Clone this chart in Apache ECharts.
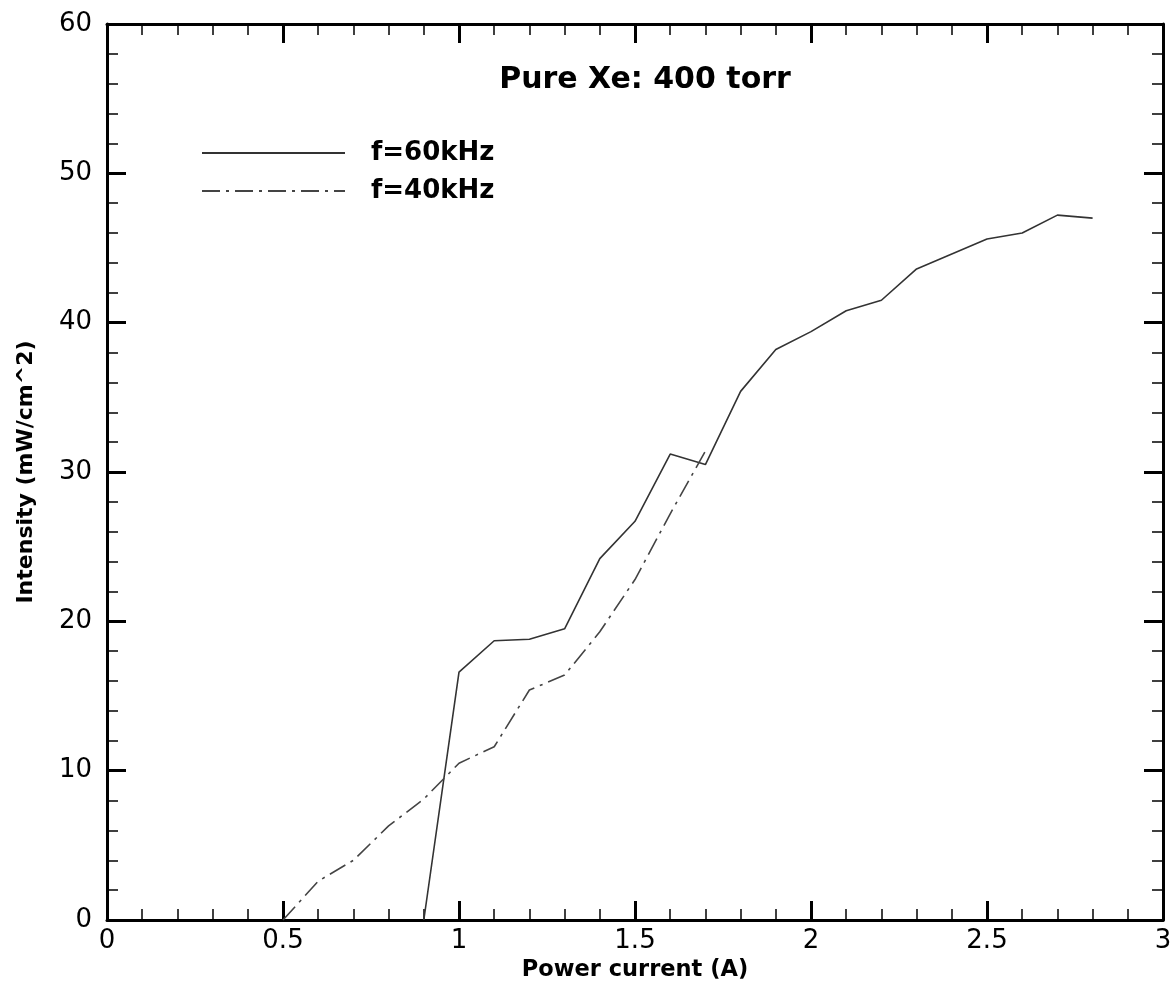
<!DOCTYPE html>
<html>
<head>
<meta charset="utf-8">
<script src="https://cdn.jsdelivr.net/npm/echarts@6/dist/echarts.min.js"></script>
<style>
html,body{margin:0;padding:0;background:#fff;}
#chart{width:1176px;height:991px;}
</style>
</head>
<body>
<div id="chart"></div>
<script>
// Data
const current60 = [0.9, 1.0, 1.1, 1.2, 1.3, 1.4, 1.5, 1.6, 1.7, 1.8, 1.9, 2.0, 2.1, 2.2, 2.3, 2.4, 2.5, 2.6, 2.7, 2.8];
const intensity60 = [0, 16.6, 18.7, 18.8, 19.5, 24.2, 26.7, 31.2, 30.5, 35.4, 38.2, 39.4, 40.8, 41.5, 43.6, 44.6, 45.6, 46.0, 47.2, 47.0];
const current40 = [0.5, 0.6, 0.7, 0.8, 0.9, 1.0, 1.1, 1.2, 1.3, 1.4, 1.5, 1.6, 1.7];
const intensity40 = [0, 2.6, 4.0, 6.3, 8.1, 10.5, 11.6, 15.4, 16.4, 19.3, 22.8, 27.2, 31.4];
const seriesNames = ['f=60kHz', 'f=40kHz'];
const titleText = 'Pure Xe: 400 torr';
const xTitle = 'Power current (A)';
const yTitle = 'Intensity (mW/cm^2)';

const pairs = (xs, ys) => xs.map((x, i) => [x, ys[i]]);
const FONT = '"DejaVu Sans", "Liberation Sans", Arial, sans-serif';

const axisCommon = {
  axisLine: {show: true, onZero: false, lineStyle: {color: '#000', width: 3}},
  axisTick: {show: true, inside: true, length: 19, lineStyle: {color: '#000', width: 3}},
  minorTick: {show: true, splitNumber: 5, length: 11, lineStyle: {color: '#000', width: 1.5}},
  splitLine: {show: false},
  minorSplitLine: {show: false}
};

const chart = echarts.init(document.getElementById('chart'));
chart.setOption({
  backgroundColor: '#fff',
  animation: false,
  title: {
    text: titleText,
    left: 645, top: 65, textAlign: 'center', padding: 0,
    textStyle: {fontFamily: FONT, fontWeight: 'bold', fontSize: 30, color: '#000'}
  },
  legend: {
    orient: 'vertical',
    left: 201, top: 139, padding: 0,
    itemWidth: 143, itemHeight: 14, itemGap: 10,
    data: seriesNames,
    itemStyle: {opacity: 0},
    textStyle: {fontFamily: FONT, fontWeight: 'bold', fontSize: 26, color: '#000', padding: [0, 0, 0, 21], lineHeight: 28}
  },
  grid: {left: 107, right: 13, top: 24, bottom: 71},
  xAxis: [
    Object.assign({
      type: 'value', min: 0, max: 3, interval: 0.5, position: 'bottom',
      name: xTitle, nameLocation: 'middle', nameGap: 38,
      nameTextStyle: {fontFamily: FONT, fontWeight: 'bold', fontSize: 22.5, color: '#000'},
      axisLabel: {fontFamily: FONT, fontSize: 26, color: '#000', margin: 8}
    }, axisCommon),
    Object.assign({
      type: 'value', min: 0, max: 3, interval: 0.5, position: 'top',
      axisLabel: {show: false}
    }, axisCommon)
  ],
  yAxis: [
    Object.assign({
      type: 'value', min: 0, max: 60, interval: 10, position: 'left',
      name: yTitle, nameLocation: 'middle', nameGap: 70,
      nameTextStyle: {fontFamily: FONT, fontWeight: 'bold', fontSize: 22, color: '#000'},
      axisLabel: {fontFamily: FONT, fontSize: 26, color: '#000', margin: 15}
    }, axisCommon),
    Object.assign({
      type: 'value', min: 0, max: 60, interval: 10, position: 'right',
      axisLabel: {show: false}
    }, axisCommon)
  ],
  series: [
    {
      name: seriesNames[0], type: 'line', symbol: 'none', showSymbol: false,
      data: pairs(current60, intensity60),
      itemStyle: {color: '#333'},
      lineStyle: {color: '#333', width: 1.6, type: 'solid'}
    },
    {
      name: seriesNames[1], type: 'line', symbol: 'none', showSymbol: false,
      data: pairs(current40, intensity40),
      itemStyle: {color: '#444'},
      lineStyle: {color: '#444', width: 1.6, type: [18, 6, 3, 6]}
    }
  ]
});
</script>
</body>
</html>
